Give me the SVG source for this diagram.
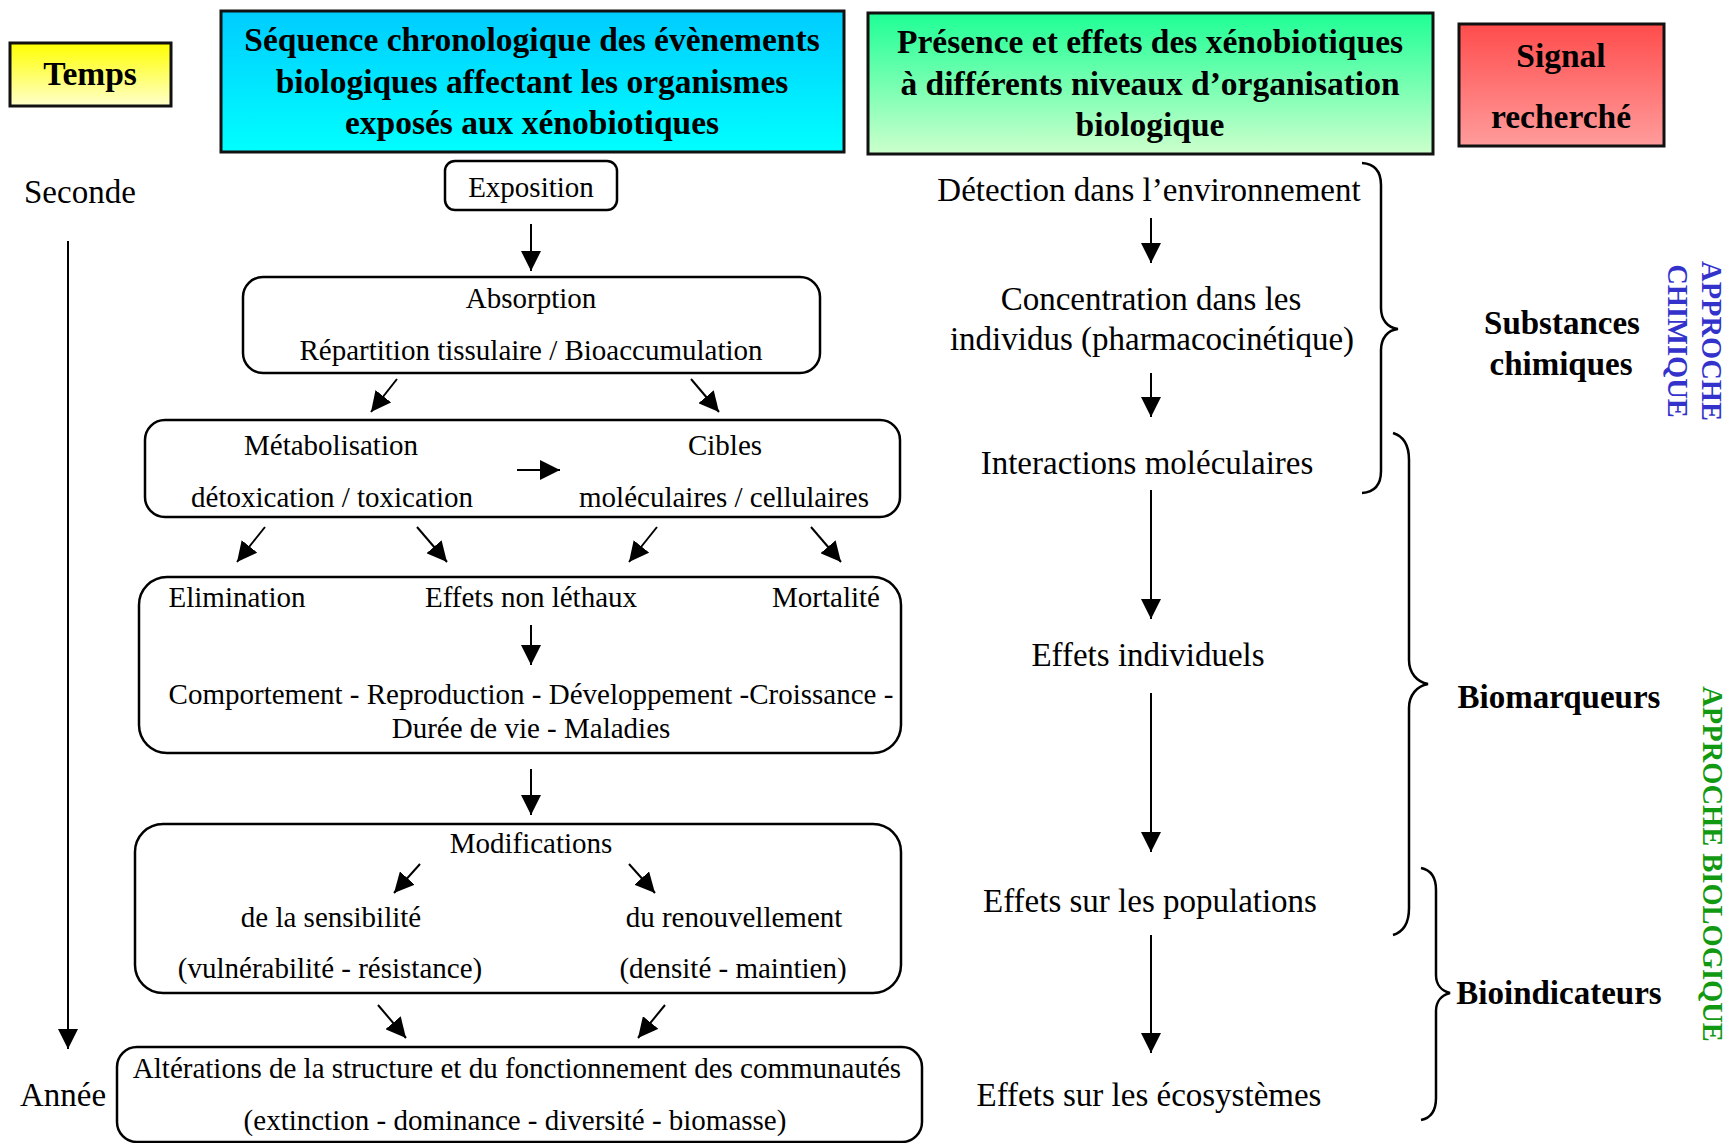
<svg xmlns="http://www.w3.org/2000/svg" width="1731" height="1143" viewBox="0 0 1731 1143">
<defs>
<linearGradient id="gYellow" x1="0" y1="0" x2="0" y2="1"><stop offset="0" stop-color="#FFFF00"/><stop offset="1" stop-color="#FFFFCC"/></linearGradient>
<linearGradient id="gCyan" x1="0" y1="0" x2="0" y2="1"><stop offset="0" stop-color="#00CCFF"/><stop offset="1" stop-color="#00FFFF"/></linearGradient>
<linearGradient id="gGreen" x1="0" y1="0" x2="0" y2="1"><stop offset="0" stop-color="#1EFF96"/><stop offset="1" stop-color="#CCFFCC"/></linearGradient>
<linearGradient id="gRed" x1="0" y1="0" x2="0" y2="1"><stop offset="0" stop-color="#FF4C4C"/><stop offset="1" stop-color="#FF9C9C"/></linearGradient>
<marker id="ah" viewBox="0 0 10 10" refX="10" refY="5" markerWidth="10" markerHeight="10" orient="auto" markerUnits="strokeWidth"><path d="M0,0 L10,5 L0,10 z" fill="#000"/></marker>
<style>
text{font-family:"Liberation Serif","Times New Roman",serif;fill:#000}
.hd{font-size:33.5px;font-weight:bold;text-anchor:middle}
.lb{font-size:33px;font-weight:bold;text-anchor:middle}
.bx{font-size:29px;text-anchor:middle}
.rc{font-size:33px;text-anchor:middle}
.tm{font-size:33px}
.vt{font-size:28.5px;font-weight:bold;text-anchor:middle}
.hbox{stroke:#111;stroke-width:3}
.rbox{fill:#fff;stroke:#000;stroke-width:2.5}
.arr{stroke:#000;stroke-width:2;fill:none;marker-end:url(#ah)}
.brace{stroke:#000;stroke-width:2.5;fill:none}
</style>
</defs>
<rect width="1731" height="1143" fill="#fff"/>

<g id="temps">
<rect class="hbox" x="10" y="43" width="161" height="63" fill="url(#gYellow)"/>
<text class="hd" x="90" y="85">Temps</text>
</g>
<g id="header-sequence">
<rect class="hbox" x="221" y="11" width="623" height="141" fill="url(#gCyan)"/>
<text class="hd" x="532" y="51">Séquence chronologique des évènements</text>
<text class="hd" x="532" y="93">biologiques affectant les organismes</text>
<text class="hd" x="532" y="134">exposés aux xénobiotiques</text>
</g>
<g id="header-presence">
<rect class="hbox" x="868" y="13" width="565" height="141" fill="url(#gGreen)"/>
<text class="hd" x="1150" y="53">Présence et effets des xénobiotiques</text>
<text class="hd" x="1150" y="95">à différents niveaux d’organisation</text>
<text class="hd" x="1150" y="136">biologique</text>
</g>
<g id="header-signal">
<rect class="hbox" x="1459" y="24" width="205" height="122" fill="url(#gRed)"/>
<text class="hd" x="1561" y="67">Signal</text>
<text class="hd" x="1561" y="128">recherché</text>
</g>

<g id="time-axis">
<text class="tm" x="24" y="203">Seconde</text>
<text class="tm" x="20" y="1106">Année</text>
</g>

<g id="exposition">
<rect class="rbox" x="445" y="161" width="172" height="49" rx="10"/>
<text class="bx" x="531" y="197">Exposition</text>
</g>
<g id="absorption">
<rect class="rbox" x="243" y="277" width="577" height="96" rx="20"/>
<text class="bx" x="531" y="308">Absorption</text>
<text class="bx" x="531" y="360">Répartition tissulaire / Bioaccumulation</text>
</g>
<g id="metabolisation">
<rect class="rbox" x="145" y="420" width="755" height="97" rx="20"/>
<text class="bx" x="331" y="455">Métabolisation</text>
<text class="bx" x="332" y="507">détoxication / toxication</text>
<text class="bx" x="725" y="455">Cibles</text>
<text class="bx" x="724" y="507">moléculaires / cellulaires</text>
</g>
<g id="effets">
<rect class="rbox" x="139" y="577" width="762" height="176" rx="28"/>
<text class="bx" x="237" y="607">Elimination</text>
<text class="bx" x="531" y="607">Effets non léthaux</text>
<text class="bx" x="826" y="607">Mortalité</text>
<text class="bx" x="531" y="704">Comportement - Reproduction - Développement -Croissance -</text>
<text class="bx" x="531" y="738">Durée de vie - Maladies</text>
</g>
<g id="modifications">
<rect class="rbox" x="135" y="824" width="766" height="169" rx="28"/>
<text class="bx" x="531" y="853">Modifications</text>
<text class="bx" x="331" y="927">de la sensibilité</text>
<text class="bx" x="330" y="978">(vulnérabilité - résistance)</text>
<text class="bx" x="734" y="927">du renouvellement</text>
<text class="bx" x="733" y="978">(densité - maintien)</text>
</g>
<g id="alterations">
<rect class="rbox" x="117" y="1047" width="805" height="95" rx="20"/>
<text class="bx" x="517" y="1078">Altérations de la structure et du fonctionnement des communautés</text>
<text class="bx" x="515" y="1130">(extinction - dominance - diversité - biomasse)</text>
</g>

<g id="niveaux">
<text class="rc" x="1149" y="201">Détection dans l’environnement</text>
<text class="rc" x="1151" y="310">Concentration dans les</text>
<text class="rc" x="1152" y="350">individus (pharmacocinétique)</text>
<text class="rc" x="1147" y="474">Interactions moléculaires</text>
<text class="rc" x="1148" y="666">Effets individuels</text>
<text class="rc" x="1150" y="912">Effets sur les populations</text>
<text class="rc" x="1149" y="1106">Effets sur les écosystèmes</text>
</g>

<g id="signal-substances">
<path class="brace" d="M1362,163 C1375,164 1381,172 1381,185 L1381,308 C1381,320 1388,328 1398,329 C1388,330 1381,338 1381,350 L1381,471 C1381,484 1375,492 1362,493"/>
<text class="lb" x="1562" y="334">Substances</text>
<text class="lb" x="1561" y="375">chimiques</text>
</g>
<g id="signal-biomarqueurs">
<path class="brace" d="M1393,433 C1403,436 1409,445 1409,460 L1409,660 C1409,673 1417,682 1428,684 C1417,686 1409,695 1409,708 L1409,908 C1409,923 1403,932 1393,935"/>
<text class="lb" x="1559" y="708">Biomarqueurs</text>
</g>
<g id="signal-bioindicateurs">
<path class="brace" d="M1421,868 C1431,870 1436,877 1436,890 L1436,975 C1436,985 1442,991 1450,993 C1442,995 1436,1001 1436,1011 L1436,1098 C1436,1111 1431,1118 1421,1120"/>
<text class="lb" x="1559" y="1004">Bioindicateurs</text>
</g>
<g id="approches">
<text class="vt" transform="translate(1702,341) rotate(90)" style="fill:#3333CC">APPROCHE</text>
<text class="vt" transform="translate(1668,341) rotate(90)" style="fill:#3333CC">CHIMIQUE</text>
<text class="vt" transform="translate(1703,864) rotate(90)" style="fill:#119911">APPROCHE BIOLOGIQUE</text>
</g>

<g id="connectors">
<line class="arr" x1="68" y1="241" x2="68" y2="1049"/>
<line class="arr" x1="531" y1="224" x2="531" y2="271"/>
<line class="arr" x1="397" y1="379" x2="371" y2="412"/>
<line class="arr" x1="691" y1="379" x2="719" y2="412"/>
<line class="arr" x1="517" y1="470" x2="560" y2="470"/>
<line class="arr" x1="265" y1="527" x2="237" y2="562"/>
<line class="arr" x1="417" y1="527" x2="447" y2="562"/>
<line class="arr" x1="657" y1="527" x2="629" y2="562"/>
<line class="arr" x1="811" y1="527" x2="841" y2="562"/>
<line class="arr" x1="531" y1="625" x2="531" y2="665"/>
<line class="arr" x1="531" y1="769" x2="531" y2="815"/>
<line class="arr" x1="420" y1="864" x2="394" y2="893"/>
<line class="arr" x1="629" y1="864" x2="655" y2="893"/>
<line class="arr" x1="378" y1="1005" x2="406" y2="1038"/>
<line class="arr" x1="665" y1="1005" x2="638" y2="1038"/>
<line class="arr" x1="1151" y1="218" x2="1151" y2="263"/>
<line class="arr" x1="1151" y1="373" x2="1151" y2="417"/>
<line class="arr" x1="1151" y1="490" x2="1151" y2="619"/>
<line class="arr" x1="1151" y1="693" x2="1151" y2="852"/>
<line class="arr" x1="1151" y1="935" x2="1151" y2="1053"/>
</g>
</svg>
